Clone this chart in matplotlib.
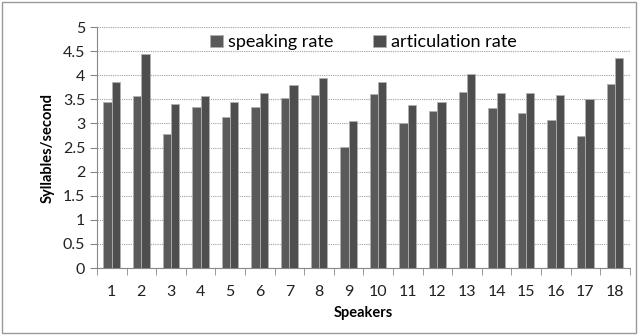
import numpy as np
import matplotlib.pyplot as plt
from matplotlib.patches import Rectangle

speakers = [str(i) for i in range(1, 19)]
speaking_rate = [3.45, 3.57, 2.78, 3.35, 3.14, 3.34, 3.53, 3.60, 2.52,
                 3.62, 3.01, 3.25, 3.66, 3.32, 3.21, 3.07, 2.75, 3.81]
articulation_rate = [3.87, 4.45, 3.40, 3.58, 3.45, 3.64, 3.80, 3.95, 3.06,
                     3.87, 3.39, 3.45, 4.03, 3.64, 3.63, 3.59, 3.51, 4.35]

plt.rcParams['font.family'] = ['Lato', 'DejaVu Sans']

fig = plt.figure(figsize=(6.38, 3.35), dpi=100)
ax = fig.add_axes([0.152, 0.2, 0.835, 0.719])

x = np.arange(len(speakers))
w = 0.28
ax.bar(x - w / 2, speaking_rate, w, color='#5a5a5a', edgecolor='#b0b0b0',
       linewidth=0.6, label='speaking rate', zorder=3)
ax.bar(x + w / 2, articulation_rate, w, color='#4e4e4e', edgecolor='#b0b0b0',
       linewidth=0.6, label='articulation rate', zorder=3)

ax.set_xlim(-0.5, len(speakers) - 0.5)
ax.set_ylim(0, 5)
ax.set_yticks(np.arange(0, 5.01, 0.5))
ax.set_yticklabels(['0', '0.5', '1', '1.5', '2', '2.5', '3', '3.5', '4', '4.5', '5'])
ax.set_xticks(x)
ax.set_xticklabels(speakers)
ax.set_xticks(np.arange(-0.5, len(speakers), 1), minor=True)
ax.tick_params(axis='x', which='major', length=0, pad=12, labelsize=11.5, labelcolor='#222222')
ax.tick_params(axis='x', which='minor', length=5, color='#888888', direction='out')
ax.tick_params(axis='y', length=5, color='#888888', labelsize=11.5, labelcolor='#222222')

ax.yaxis.grid(True, linestyle=(0, (1, 1)), color='#a0a0a0', linewidth=0.8, zorder=0)
for s in ['top', 'right']:
    ax.spines[s].set_visible(False)
ax.spines['left'].set_color('#888888')
ax.spines['bottom'].set_color('#888888')

ax.set_xlabel('Speakers', fontweight='bold', fontsize=10.5, labelpad=5)
ax.set_ylabel('Syllables/second', fontweight='bold', fontsize=10.5, labelpad=6)

leg = ax.legend(loc='upper center', bbox_to_anchor=(0.5, 1.0), ncol=2, frameon=False,
                fontsize=13, handlelength=0.7, handleheight=0.7, handletextpad=0.3,
                columnspacing=2.2, borderaxespad=0.0)

fig.patches.append(Rectangle((0.003, 0.005), 0.994, 0.99, transform=fig.transFigure,
                             fill=False, edgecolor='#999999', linewidth=1))

fig.savefig('out.png', dpi=100)
